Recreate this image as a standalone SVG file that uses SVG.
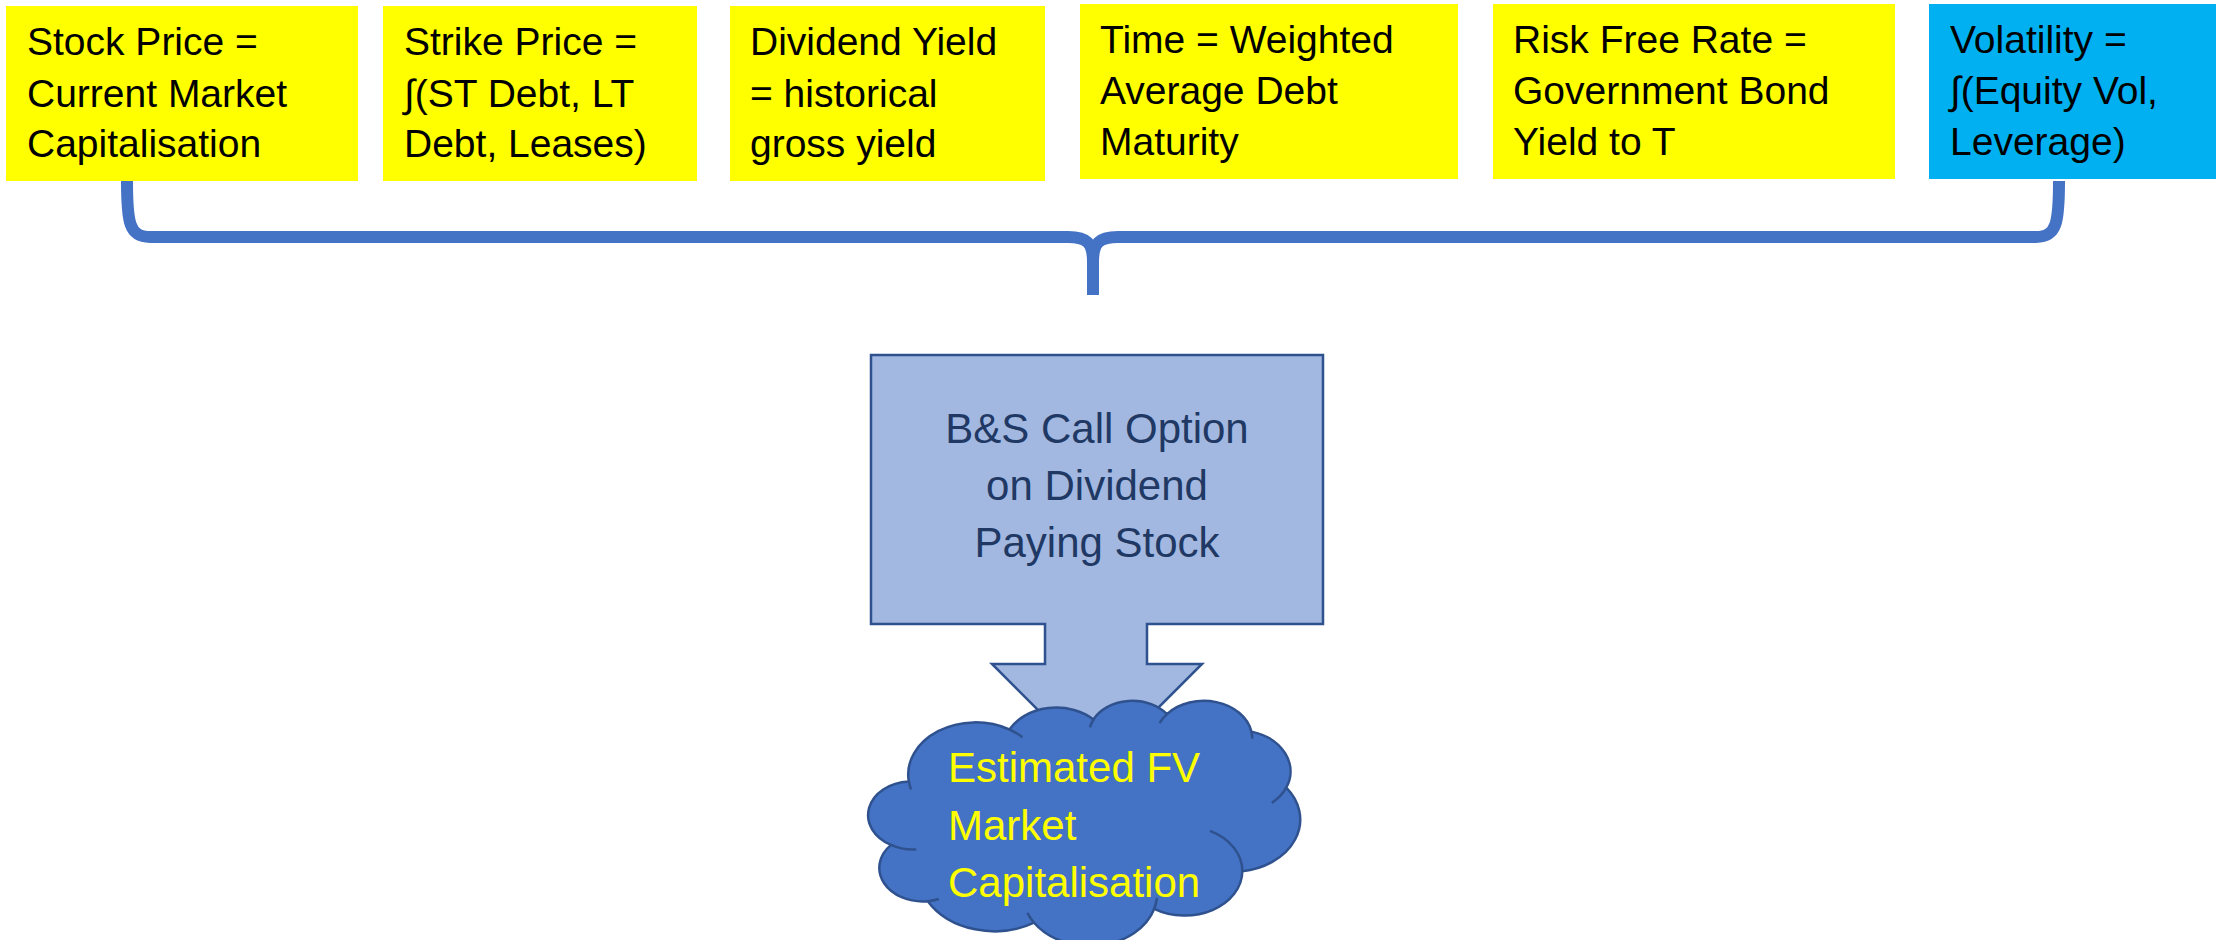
<svg xmlns="http://www.w3.org/2000/svg" width="2226" height="940" viewBox="0 0 2226 940">
  <style>
    .box-text { font-family: "Liberation Sans", Arial, sans-serif; font-size: 39px; fill: #000000; }
    .calc-text { font-family: "Liberation Sans", Arial, sans-serif; font-size: 42px; fill: #1F3864; text-anchor: middle; }
    .cloud-text { font-family: "Liberation Sans", Arial, sans-serif; font-size: 42px; fill: #FFFF00; }
    .brace { fill: none; stroke: #4472C4; stroke-width: 12; stroke-linecap: butt; stroke-linejoin: round; }
    .outline { stroke: #2F528F; stroke-width: 2.5; vector-effect: non-scaling-stroke; }
  </style>

  <rect width="2226" height="940" fill="#FFFFFF"/>

  <!-- Model inputs -->
  <g id="stock-price">
    <rect x="6" y="6" width="352" height="175" fill="#FFFF00"/>
    <text class="box-text" x="27" y="55">Stock Price =</text>
    <text class="box-text" x="27" y="107">Current Market</text>
    <text class="box-text" x="27" y="157">Capitalisation</text>
  </g>
  <g id="strike-price">
    <rect x="383" y="6" width="314" height="175" fill="#FFFF00"/>
    <text class="box-text" x="404" y="55">Strike Price =</text>
    <text class="box-text" x="404" y="107">∫(ST Debt, LT</text>
    <text class="box-text" x="404" y="157">Debt, Leases)</text>
  </g>
  <g id="dividend-yield">
    <rect x="730" y="6" width="315" height="175" fill="#FFFF00"/>
    <text class="box-text" x="750" y="55">Dividend Yield</text>
    <text class="box-text" x="750" y="107">= historical</text>
    <text class="box-text" x="750" y="157">gross yield</text>
  </g>
  <g id="time">
    <rect x="1080" y="4" width="378" height="175" fill="#FFFF00"/>
    <text class="box-text" x="1100" y="53">Time = Weighted</text>
    <text class="box-text" x="1100" y="104">Average Debt</text>
    <text class="box-text" x="1100" y="155">Maturity</text>
  </g>
  <g id="risk-free-rate">
    <rect x="1493" y="4" width="402" height="175" fill="#FFFF00"/>
    <text class="box-text" x="1513" y="53">Risk Free Rate =</text>
    <text class="box-text" x="1513" y="104">Government Bond</text>
    <text class="box-text" x="1513" y="155">Yield to T</text>
  </g>
  <g id="volatility">
    <rect x="1929" y="4" width="287" height="175" fill="#00B0F0"/>
    <text class="box-text" x="1950" y="53">Volatility =</text>
    <text class="box-text" x="1950" y="104">∫(Equity Vol,</text>
    <text class="box-text" x="1950" y="155">Leverage)</text>
  </g>

  <!-- Brace gathering the inputs -->
  <g id="connectors">
    <path class="brace" d="M127,181 C127,222 129,237 150,237 H1068 C1087,237 1093,243 1093,262 V295"/>
    <path class="brace" d="M2059,181 C2059,222 2057,237 2036,237 H1118 C1099,237 1093,243 1093,262"/>
  </g>

  <!-- Pricing model: down-arrow callout -->
  <g id="bs-model">
    <path d="M871,355 H1323 V624 H1147 V664 H1202 L1097,769 L992,664 H1045 V624 H871 Z"
          fill="#A2B8E0" stroke="#2F528F" stroke-width="2.5"/>
    <text class="calc-text" x="1097" y="443">B&amp;S Call Option</text>
    <text class="calc-text" x="1097" y="500">on Dividend</text>
    <text class="calc-text" x="1097" y="557">Paying Stock</text>
  </g>

  <!-- Result: cloud (43200-unit cloud geometry, scaled into place) -->
  <g id="fair-value">
    <g transform="translate(870,700) scale(0.009954,0.005671)">
      <path class="outline" fill="#4472C4"
            d="M3900,14370 A6753,9190 0 0 1 14005,5203 A5333,7267 0 0 1 22456,3433 A4365,5945 0 0 1 29833,2481 A4857,6595 0 0 1 38318,5577 A5333,7273 0 0 1 41818,15461 A6775,9220 0 0 1 37405,30206 A5785,7867 0 0 1 28557,36817 A6752,9215 0 0 1 16482,39270 A7720,10543 0 0 1 5805,35475 A4360,5918 0 0 1 2114,25553 A4345,5945 0 0 1 3900,14370 Z"/>
      <path class="outline" fill="none"
            d="M4649,26351 A4345,5945 0 0 1 2114,25553 M6913,35093 A4360,5918 0 0 1 5805,35475 M16482,39270 A6752,9215 0 0 1 15815,37530 M28824,34908 A6752,9215 0 0 1 28557,36817 M34153,23070 A5785,7867 0 0 1 37405,30206 M41818,15461 A5333,7273 0 0 1 40370,18138 M38318,5577 A4857,6595 0 0 1 38395,6841 M29091,4095 A4857,6595 0 0 1 29833,2481 M22097,4822 A4365,5945 0 0 1 22456,3433 M14005,5203 A6753,9190 0 0 1 15306,6552 M4128,15796 A6753,9190 0 0 1 3900,14370"/>
    </g>
    <text class="cloud-text" x="948" y="782">Estimated FV</text>
    <text class="cloud-text" x="948" y="840">Market</text>
    <text class="cloud-text" x="948" y="897">Capitalisation</text>
  </g>
</svg>
